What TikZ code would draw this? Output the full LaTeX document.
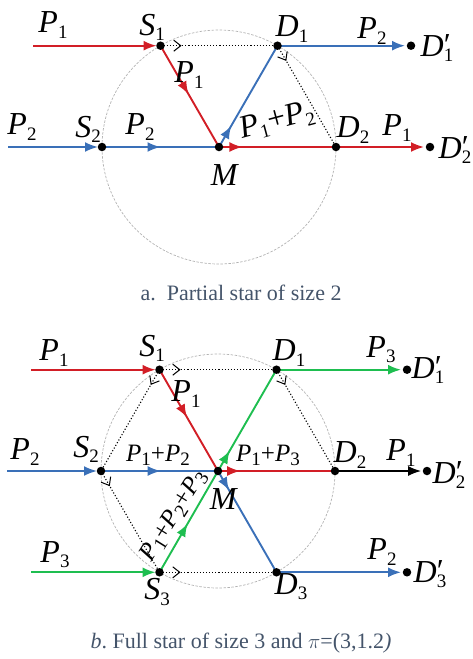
\documentclass[tikz,border=0pt]{standalone}
\usepackage{fontspec}
\setmainfont{Liberation Serif}
\newfontfamily\starfont{Liberation Serif}
\usetikzlibrary{arrows.meta,decorations.markings}
\definecolor{starRed}{RGB}{210,30,38}
\definecolor{starBlue}{RGB}{58,112,184}
\definecolor{starGreen}{RGB}{30,190,80}
\definecolor{capGray}{RGB}{68,84,106}
\newcommand{\pl}[2]{\textit{#1}\raisebox{-0.35ex}{\fontsize{19}{20}\selectfont #2}}
\newcommand{\plp}[2]{\textit{#1}\rlap{\raisebox{0.05ex}{′}}\raisebox{-0.35ex}{\fontsize{19}{20}\selectfont #2}}

\begin{document}
\begin{tikzpicture}[x=1pt, y=-1pt,
    pt/.style={circle, fill=black, inner sep=0pt, minimum size=8.5pt},
    lbl/.style={font=\starfont\fontsize{32}{34}\selectfont, inner sep=0pt},
    slbl/.style={font=\starfont\fontsize{25}{27}\selectfont, inner sep=0pt},
    flow/.style={line width=1.9pt},
    arr/.style={-{Latex[length=13pt,width=10pt]}, shorten >=#1},
    mid/.style={postaction={decorate}, decoration={markings,
                mark=at position #1 with {\arrow{Latex[length=13pt,width=10pt]}}}},
    hop/.style={dotted, line width=1.1pt, postaction={decorate}, decoration={markings,
                mark=at position #1 with {\arrow[solid]{Straight Barb[length=7pt,width=11pt,line width=1pt]}}}},
    ring/.style={gray!60, dash pattern=on 2.5pt off 1.5pt, line width=0.7pt},
    captxt/.style={font=\starfont\fontsize{22}{24}\selectfont, text=capGray}
  ]
  \useasboundingbox (0,0) rectangle (472,659);

  % a. partial star
  \coordinate (aM)  at (219,147);
  \coordinate (aS1) at (160.5,45.7);
  \coordinate (aD1) at (277.5,45.7);
  \coordinate (aS2) at (102,147);
  \coordinate (aD2) at (336,147);
  \coordinate (aE1) at (411,45.7);
  \coordinate (aE2) at (430,147);
  \coordinate (aIn1) at (33,45.7);
  \coordinate (aIn2) at (8,147);

  \draw[ring] (aM) circle[radius=117];
  \draw[hop=0.18] (aS1) -- (aD1);
  \draw[hop=0.15] (aD1) -- (aD2);

  \draw[flow, starRed, arr=4pt] (aIn1) -- (aS1);
  \draw[flow, starRed, mid=0.48] (aS1) -- (aM);
  \draw[flow, starBlue, arr=4pt] (aIn2) -- (aS2);
  \draw[flow, starBlue, mid=0.5] (aS2) -- (aM);
  \draw[flow, starBlue, mid=0.21] (aM) -- (aD1);
  \draw[flow, starRed, mid=0.2] (aM) -- (aD2);
  \draw[flow, starBlue, arr=6pt] (aD1) -- (aE1);
  \draw[flow, starRed, arr=6pt] (aD2) -- (aE2);

  \foreach \p in {aM,aS1,aD1,aS2,aD2,aE1,aE2}
    \node[pt] (dot\p) at (\p) {};

  \node[lbl] (aLP1)  at (53,25)   {\pl{P}{1}};
  \node[lbl] (aLS1)  at (152,27)  {\pl{S}{1}};
  \node[lbl] (aLD1)  at (292,29)  {\pl{D}{1}};
  \node[lbl] (aLP2r) at (372,31)  {\pl{P}{2}};
  \node[lbl] (aLE1)  at (437,48)  {\plp{D}{1}};
  \node[lbl] (aLP1m) at (189,75)  {\pl{P}{1}};
  \node[lbl] (aLP2)  at (22,127)  {\pl{P}{2}};
  \node[lbl] (aLS2)  at (88,129)  {\pl{S}{2}};
  \node[lbl] (aLP2m) at (140,127) {\pl{P}{2}};
  \node[lbl, rotate=15] (aLsum) at (277,121) {\pl{P}{1}+\pl{P}{2}};
  \node[lbl] (aLD2)  at (353,130) {\pl{D}{2}};
  \node[lbl] (aLP1r) at (397,128) {\pl{P}{1}};
  \node[lbl] (aLE2)  at (455,150) {\plp{D}{2}};
  \node[lbl] (aLM)   at (225,175) {\textit{M}};

  \node[captxt] (capA) at (241,293) {a.\ \ Partial star of size 2};

  % b. full star
  \coordinate (bM)  at (218,471);
  \coordinate (bS1) at (159.5,369.7);
  \coordinate (bD1) at (276.5,369.7);
  \coordinate (bS2) at (101,471);
  \coordinate (bD2) at (335,471);
  \coordinate (bS3) at (159.5,572.3);
  \coordinate (bD3) at (276.5,572.3);
  \coordinate (bE1) at (407,369.7);
  \coordinate (bE2) at (427,471);
  \coordinate (bE3) at (407,572.3);
  \coordinate (bIn1) at (31,369.7);
  \coordinate (bIn2) at (7,471);
  \coordinate (bIn3) at (31,572.3);

  \draw[ring] (bM) circle[radius=117];
  \draw[hop=0.18] (bS1) -- (bD1);
  \draw[hop=0.15] (bD1) -- (bD2);
  \draw[hop=0.15] (bS1) -- (bS2);
  \draw[hop=0.15] (bS2) -- (bS3);
  \draw[hop=0.18] (bS3) -- (bD3);

  \draw[flow, starRed, arr=4pt] (bIn1) -- (bS1);
  \draw[flow, starRed, mid=0.47] (bS1) -- (bM);
  \draw[flow, starRed, mid=0.19] (bM) -- (bD2);
  \draw[flow, starBlue, arr=4pt] (bIn2) -- (bS2);
  \draw[flow, starBlue, mid=0.51] (bS2) -- (bM);
  \draw[flow, starBlue, mid=0.19] (bM) -- (bD3);
  \draw[flow, starGreen, arr=4pt] (bIn3) -- (bS3);
  \draw[flow, starGreen, mid=0.48] (bS3) -- (bM);
  \draw[flow, starGreen, mid=0.2] (bM) -- (bD1);
  \draw[flow, starGreen, arr=6pt] (bD1) -- (bE1);
  \draw[line width=1.2pt, arr=6pt] (bD2) -- (bE2);
  \draw[flow, starBlue, arr=6pt] (bD3) -- (bE3);

  \foreach \p in {bM,bS1,bD1,bS2,bD2,bS3,bD3,bE1,bE2,bE3}
    \node[pt] (dot\p) at (\p) {};

  \node[lbl] (bLP1)  at (54,353)  {\pl{P}{1}};
  \node[lbl] (bLS1)  at (152,348) {\pl{S}{1}};
  \node[lbl] (bLD1)  at (289,353) {\pl{D}{1}};
  \node[lbl] (bLP3r) at (381,350) {\pl{P}{3}};
  \node[lbl] (bLE1)  at (428,370) {\plp{D}{1}};
  \node[lbl] (bLP1m) at (186,394) {\pl{P}{1}};
  \node[lbl] (bLP2)  at (25,452)  {\pl{P}{2}};
  \node[lbl] (bLS2)  at (86,449)  {\pl{S}{2}};
  \node[slbl] (bL12) at (158,455) {\pl{P}{1}+\pl{P}{2}};
  \node[slbl] (bL13) at (268,455) {\pl{P}{1}+\pl{P}{3}};
  \node[lbl] (bLD2)  at (350,455) {\pl{D}{2}};
  \node[lbl] (bLP1r) at (401,453) {\pl{P}{1}};
  \node[lbl] (bLE2)  at (449,475) {\plp{D}{2}};
  \node[lbl] (bLM)   at (224,499) {\textit{M}};
  \node[slbl, rotate=58] (bL123) at (174,516) {\pl{P}{1}+\pl{P}{2}+\pl{P}{3}};
  \node[lbl] (bLP3)  at (55,555)  {\pl{P}{3}};
  \node[lbl] (bLS3)  at (157,592) {\pl{S}{3}};
  \node[lbl] (bLD3)  at (291,587) {\pl{D}{3}};
  \node[lbl] (bLP2r) at (382,552) {\pl{P}{2}};
  \node[lbl] (bLE3)  at (430,574) {\plp{D}{3}};

  \node[captxt] (capB) at (241,643) {\textit{b}.\ Full star of size 3 and $\pi$=(3,1.2\textit{)}};
\end{tikzpicture}
\end{document}
